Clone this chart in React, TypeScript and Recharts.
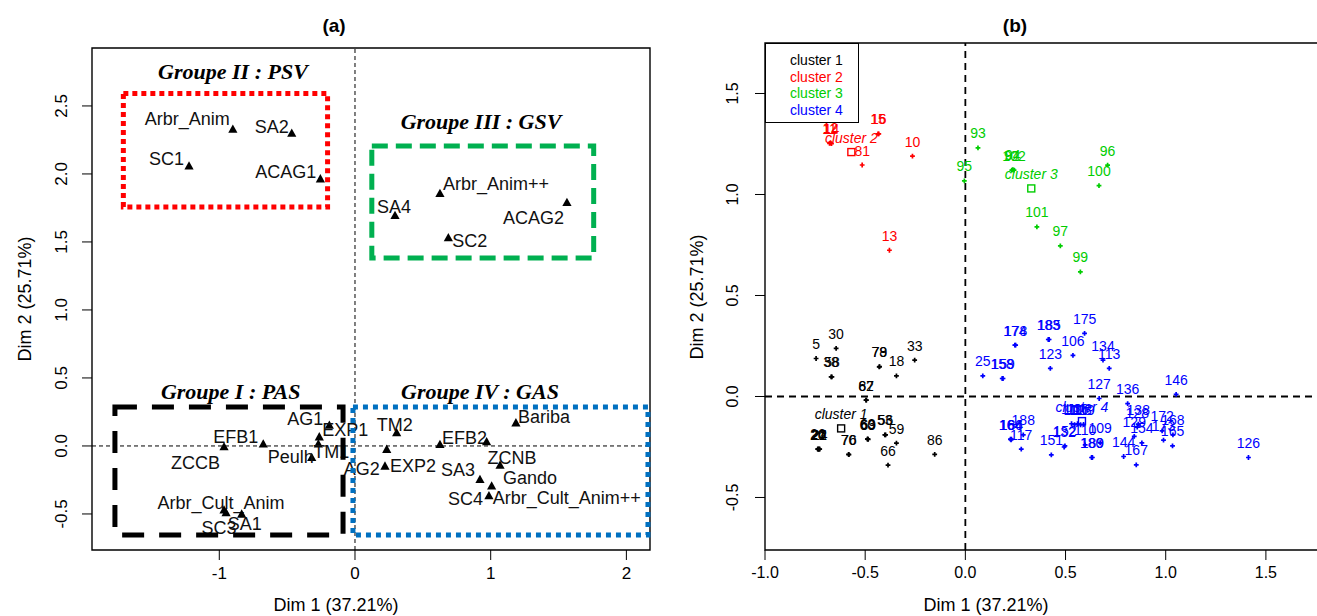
import React from 'react';
import { ScatterChart, Scatter, XAxis, YAxis, ReferenceLine, ReferenceArea, ReferenceDot, Label } from 'recharts';

const SANS = '"Liberation Sans", Arial, sans-serif';
const SERIF = '"Liberation Serif", "Times New Roman", serif';

// ---------------- Panel (a) data ----------------
const varNames = ['Arbr_Anim', 'SA2', 'SC1', 'ACAG1', 'Arbr_Anim++', 'SA4', 'ACAG2', 'SC2', 'AG1', 'EXP1', 'TM1', 'Peulh', 'EFB1', 'ZCCB', 'Arbr_Cult_Anim', 'SC3', 'SA1', 'TM2', 'AG2', 'EXP2', 'EFB2', 'ZCNB', 'Gando', 'Bariba', 'SA3', 'Arbr_Cult_Anim++', 'SC4'];
const varDim1 = [-0.9, -0.466, -1.223, -0.255, 0.626, 0.295, 1.562, 0.688, -0.189, -0.263, -0.27, -0.319, -0.676, -0.965, -0.965, -0.95, -0.835, 0.307, 0.234, 0.221, 0.626, 0.97, 1.069, 1.186, 0.921, 1.007, 0.987];
const varDim2 = [2.33, 2.3, 2.06, 1.965, 1.858, 1.696, 1.791, 1.532, 0.154, 0.068, 0.015, -0.083, 0.015, -0.005, -0.47, -0.49, -0.5, 0.098, -0.024, -0.147, 0.0125, 0.032, -0.14, 0.171, -0.245, -0.294, -0.365];
// label placement (text anchor, dx px, dy px) like R's autoLab result
const labelPlacement: [string, number, number][] = [
  ['end', -3, -10], ['end', -3, -6], ['end', -5, -7], ['end', -4, -7], ['start', 3, -9],
  ['middle', -1, -8], ['end', -3, 16], ['start', 4, 3], ['end', -6, -6], ['start', 3, -7],
  ['start', -5, 8], ['end', 2, 0], ['end', -5, -7], ['end', -4, 16], ['middle', -3, -7],
  ['middle', -7, 15], ['middle', 3, 10], ['middle', -2, -8], ['end', -7, 20], ['start', 5, 0],
  ['start', 2, -6], ['start', 1, 16], ['start', 3, 13], ['start', 2, -6], ['end', -5, -9],
  ['start', 1, 12], ['end', -6, 3],
];

const groupTitles = ['Groupe II : PSV', 'Groupe III : GSV', 'Groupe I : PAS', 'Groupe IV : GAS'];
const groupTitleX = [-0.899, 0.929, -0.916, 0.921];
const groupTitleY = [2.75, 2.384, 0.4, 0.4];
const groupX1 = [-1.707, 0.124, -1.769, -0.015];
const groupX2 = [-0.202, 1.759, -0.088, 2.159];
const groupY1 = [1.757, 1.382, -0.654, -0.654];
const groupY2 = [2.592, 2.206, 0.287, 0.287];
const groupColors = ['#FF0000', '#00B050', '#000000', '#0070C0'];
const groupDash = ['5 4', '16 8', '22 15', '5 5'];

const aXDomain: [number, number] = [-1.938, 2.174];
const aYDomain: [number, number] = [-0.765, 2.926];
const aXTicks = [-1, 0, 1, 2];
const aYTicks = [-0.5, 0, 0.5, 1, 1.5, 2, 2.5];

// ---------------- Panel (b) data ----------------
const cluster1 = [
  { id: '5', x: -0.745, y: 0.188 }, { id: '30', x: -0.645, y: 0.238 },
  { id: '38', x: -0.67, y: 0.097 }, { id: '58', x: -0.666, y: 0.097 },
  { id: '78', x: -0.43, y: 0.147 }, { id: '79', x: -0.428, y: 0.148 },
  { id: '18', x: -0.344, y: 0.102 }, { id: '33', x: -0.253, y: 0.18 },
  { id: '62', x: -0.496, y: -0.018 }, { id: '87', x: -0.494, y: -0.018 },
  { id: '20', x: -0.737, y: -0.261 }, { id: '21', x: -0.733, y: -0.262 }, { id: '22', x: -0.729, y: -0.26 },
  { id: '24', x: -0.727, y: -0.261 }, { id: '26', x: -0.735, y: -0.259 },
  { id: '70', x: -0.583, y: -0.287 }, { id: '76', x: -0.581, y: -0.288 },
  { id: '60', x: -0.489, y: -0.211 }, { id: '63', x: -0.487, y: -0.21 }, { id: '69', x: -0.485, y: -0.212 },
  { id: '53', x: -0.402, y: -0.19 }, { id: '56', x: -0.398, y: -0.19 },
  { id: '59', x: -0.344, y: -0.231 }, { id: '66', x: -0.386, y: -0.34 }, { id: '86', x: -0.153, y: -0.287 },
];
const cluster2 = [
  { id: '11', x: -0.678, y: 1.253 }, { id: '12', x: -0.673, y: 1.255 }, { id: '14', x: -0.668, y: 1.252 },
  { id: '15', x: -0.436, y: 1.3 }, { id: '16', x: -0.432, y: 1.3 },
  { id: '81', x: -0.515, y: 1.146 }, { id: '10', x: -0.264, y: 1.19 }, { id: '13', x: -0.379, y: 0.724 },
];
const cluster3 = [
  { id: '93', x: 0.063, y: 1.231 }, { id: '95', x: -0.005, y: 1.067 },
  { id: '92', x: 0.232, y: 1.121 }, { id: '94', x: 0.237, y: 1.123 }, { id: '102', x: 0.243, y: 1.121 },
  { id: '96', x: 0.71, y: 1.145 }, { id: '100', x: 0.667, y: 1.044 }, { id: '101', x: 0.357, y: 0.84 },
  { id: '97', x: 0.474, y: 0.746 }, { id: '99', x: 0.574, y: 0.617 },
];
const cluster4 = [
  { id: '25', x: 0.087, y: 0.102 }, { id: '158', x: 0.184, y: 0.089 }, { id: '159', x: 0.188, y: 0.089 },
  { id: '174', x: 0.247, y: 0.254 }, { id: '178', x: 0.251, y: 0.254 },
  { id: '183', x: 0.414, y: 0.282 }, { id: '185', x: 0.418, y: 0.282 },
  { id: '175', x: 0.595, y: 0.312 }, { id: '106', x: 0.537, y: 0.204 }, { id: '123', x: 0.424, y: 0.139 },
  { id: '134', x: 0.687, y: 0.18 }, { id: '113', x: 0.718, y: 0.139 },
  { id: '127', x: 0.668, y: -0.01 }, { id: '136', x: 0.81, y: -0.035 }, { id: '146', x: 1.052, y: 0.01 },
  { id: '164', x: 0.225, y: -0.211 }, { id: '184', x: 0.23, y: -0.211 }, { id: '166', x: 0.228, y: -0.215 },
  { id: '188', x: 0.289, y: -0.19 }, { id: '117', x: 0.279, y: -0.261 },
  { id: '111', x: 0.53, y: -0.135 }, { id: '112', x: 0.545, y: -0.14 }, { id: '116', x: 0.56, y: -0.135 },
  { id: '118', x: 0.575, y: -0.14 }, { id: '119', x: 0.59, y: -0.138 },
  { id: '110', x: 0.598, y: -0.24 }, { id: '109', x: 0.673, y: -0.229 },
  { id: '132', x: 0.493, y: -0.25 }, { id: '152', x: 0.497, y: -0.245 }, { id: '151', x: 0.429, y: -0.289 },
  { id: '180', x: 0.63, y: -0.302 }, { id: '189', x: 0.634, y: -0.302 },
  { id: '144', x: 0.79, y: -0.297 }, { id: '167', x: 0.853, y: -0.339 }, { id: '154', x: 0.881, y: -0.23 },
  { id: '138', x: 0.863, y: -0.137 }, { id: '128', x: 0.858, y: -0.152 }, { id: '129', x: 0.843, y: -0.197 },
  { id: '172', x: 0.982, y: -0.17 }, { id: '173', x: 0.989, y: -0.216 },
  { id: '168', x: 1.036, y: -0.19 }, { id: '165', x: 1.034, y: -0.245 }, { id: '126', x: 1.413, y: -0.302 },
];
const clusterNames = ['cluster 1', 'cluster 2', 'cluster 3', 'cluster 4'];
const clusterColors = ['#000000', '#FF0000', '#00CD00', '#0000FF'];
const centerX = [-0.62, -0.569, 0.329, 0.582];
const centerY = [-0.158, 1.21, 1.03, -0.122];

const bXDomain: [number, number] = [-1.0, 1.8];
const bYDomain: [number, number] = [-0.76, 1.75];
const bXTicks = [-1.0, -0.5, 0, 0.5, 1.0, 1.5];
const bYTicks = [-0.5, 0, 0.5, 1.0, 1.5];

// ---------------- helpers ----------------
const varTable = varNames.map((name, i) => ({
  name, x: varDim1[i], y: varDim2[i],
  anchor: labelPlacement[i][0], dx: labelPlacement[i][1], dy: labelPlacement[i][2],
}));
const centerTable = clusterNames.map((name, i) => ({ name, x: centerX[i], y: centerY[i], color: clusterColors[i] }));
const clusters = [cluster1, cluster2, cluster3, cluster4];

const TriangleLabel = (p: any) => {
  const { cx, cy, payload } = p;
  if (cx == null || cy == null) return null;
  const s = 4.6;
  return (
    <g>
      <polygon points={`${cx},${cy - s} ${cx - s},${cy + s * 0.8} ${cx + s},${cy + s * 0.8}`} fill="#000" />
      <text x={cx + payload.dx} y={cy + payload.dy} textAnchor={payload.anchor} dominantBaseline="central"
        fontSize={18} fontFamily={SANS} fill="#111">{payload.name}</text>
    </g>
  );
};

const makePlus = (color: string) => (p: any) => {
  const { cx, cy, payload } = p;
  if (cx == null || cy == null) return null;
  return (
    <g>
      <path d={`M${cx - 2.4},${cy}H${cx + 2.4}M${cx},${cy - 2.4}V${cy + 2.4}`} stroke={color} strokeWidth={1.7} />
      <text x={cx} y={cy - 14.5} textAnchor="middle" dominantBaseline="central" fontSize={14}
        fontFamily={SANS} fill={color}>{payload.id}</text>
    </g>
  );
};

const CenterSquare = (p: any) => {
  const { cx, cy, payload } = p;
  if (cx == null || cy == null) return null;
  return (
    <g>
      <rect x={cx - 3.5} y={cy - 3.5} width={7} height={7} fill="none" stroke={payload.color} strokeWidth={1.4} />
      <text x={cx} y={cy - 14.5} textAnchor="middle" dominantBaseline="central" fontSize={14}
        fontStyle="italic" fontFamily={SANS} fill={payload.color}>{payload.name}</text>
    </g>
  );
};

const makeYTick = (xPos: number, fontSize: number) => (p: any) => {
  const { y, payload } = p;
  return (
    <text x={xPos} y={y} transform={`rotate(-90 ${xPos} ${y})`} textAnchor="middle" dominantBaseline="central"
      fontSize={fontSize} fontFamily={SANS} fill="#000">{Number(payload.value).toFixed(1)}</text>
  );
};

const makeXTitle = (x: number, y: number) => () => (
  <text x={x} y={y} textAnchor="middle" dominantBaseline="central" fontSize={18} fontFamily={SANS} fill="#000">Dim 1 (37.21%)</text>
);
const makeYTitle = (x: number, y: number) => () => (
  <text x={x} y={y} transform={`rotate(-90 ${x} ${y})`} textAnchor="middle" dominantBaseline="central"
    fontSize={18} fontFamily={SANS} fill="#000">Dim 2 (25.71%)</text>
);

const makeGroupTitle = (text: string) => (p: any) => (
  <text x={p.cx} y={p.cy} textAnchor="middle" dominantBaseline="central" fontSize={22}
    fontFamily={SERIF} fontWeight="bold" fontStyle="italic" fill="#000">{text}</text>
);

export default function App() {
  return (
    <div style={{ position: 'absolute', left: 0, top: 0, width: 1317, height: 616, overflow: 'hidden', background: '#fff', fontFamily: SANS }}>
      {/* Panel (a) */}
      <div style={{ position: 'absolute', left: 0, top: 0 }}>
        <ScatterChart width={660} height={616} margin={{ top: 48, right: 10, bottom: 6, left: 0 }}>
          <XAxis type="number" dataKey="x" domain={aXDomain} ticks={aXTicks} allowDataOverflow
            axisLine={false} tickLine={{ stroke: '#000' }} tickSize={10} tickMargin={7} height={60}
            tick={{ fontSize: 17, fill: '#000', fontFamily: SANS }} tickFormatter={(v: number) => String(v)}>
            <Label content={makeXTitle(336, 605)} />
          </XAxis>
          <YAxis type="number" dataKey="y" domain={aYDomain} ticks={aYTicks} allowDataOverflow
            axisLine={false} tickLine={{ stroke: '#000' }} tickSize={10} width={92} tick={makeYTick(62, 17)}>
            <Label content={makeYTitle(25, 299)} />
          </YAxis>
          <ReferenceArea x1={aXDomain[0]} x2={aXDomain[1]} y1={aYDomain[0]} y2={aYDomain[1]}
            fill="none" fillOpacity={0} stroke="#000" strokeWidth={1.4} ifOverflow="visible" />
          <ReferenceLine x={0} stroke="#000" strokeDasharray="4 3" strokeWidth={1} />
          <ReferenceLine y={0} stroke="#000" strokeDasharray="4 3" strokeWidth={1} />
          <Scatter name="variables" data={varTable} shape={TriangleLabel} isAnimationActive={false} />
          {groupTitles.map((t, i) => (
            <ReferenceArea key={'box' + i} x1={groupX1[i]} x2={groupX2[i]} y1={groupY1[i]} y2={groupY2[i]}
              fill="none" fillOpacity={0} stroke={groupColors[i]} strokeWidth={5}
              strokeDasharray={groupDash[i]} ifOverflow="visible" zIndex={700} />
          ))}
          {groupTitles.map((t, i) => (
            <ReferenceDot key={'gt' + i} x={groupTitleX[i]} y={groupTitleY[i]} r={0}
              shape={makeGroupTitle(t)} ifOverflow="visible" />
          ))}
        </ScatterChart>
      </div>

      {/* Panel (b) */}
      <div style={{ position: 'absolute', left: 670, top: 0 }}>
        <ScatterChart width={670} height={616} margin={{ top: 43, right: 14, bottom: 6, left: 0 }}>
          <XAxis type="number" dataKey="x" domain={bXDomain} ticks={bXTicks} allowDataOverflow
            axisLine={false} tickLine={{ stroke: '#000' }} tickSize={10} tickMargin={7} height={60}
            tick={{ fontSize: 16, fill: '#000', fontFamily: SANS }} tickFormatter={(v: number) => v.toFixed(1)}>
            <Label content={makeXTitle(316, 605)} />
          </XAxis>
          <YAxis type="number" dataKey="y" domain={bYDomain} ticks={bYTicks} allowDataOverflow
            axisLine={false} tickLine={{ stroke: '#000' }} tickSize={10} width={95} tick={makeYTick(63, 16)}>
            <Label content={makeYTitle(27, 297)} />
          </YAxis>
          <ReferenceArea x1={bXDomain[0]} x2={bXDomain[1]} y1={bYDomain[0]} y2={bYDomain[1]}
            fill="none" fillOpacity={0} stroke="#000" strokeWidth={1.4} ifOverflow="visible" />
          <ReferenceLine x={0} stroke="#000" strokeDasharray="7 5" strokeWidth={1.8} />
          <ReferenceLine y={0} stroke="#000" strokeDasharray="7 5" strokeWidth={1.8} />
          {clusters.map((c, i) => (
            <Scatter key={clusterNames[i]} name={clusterNames[i]} data={c} shape={makePlus(clusterColors[i])}
              isAnimationActive={false} />
          ))}
          <Scatter name="centres" data={centerTable} shape={CenterSquare} isAnimationActive={false} />
        </ScatterChart>
      </div>

      {/* Legend of panel (b) */}
      <div style={{ position: 'absolute', left: 765, top: 43, width: 94, height: 80, border: '1.5px solid #000',
        background: '#fff', boxSizing: 'border-box', paddingTop: 8, paddingLeft: 24 }}>
        {clusterNames.map((n, i) => (
          <div key={n} style={{ fontSize: 14, lineHeight: '16.7px', color: clusterColors[i], fontFamily: SANS }}>{n}</div>
        ))}
      </div>

      {/* Panel titles */}
      <div style={{ position: 'absolute', left: 304, top: 15, width: 60, textAlign: 'center', fontWeight: 'bold', fontSize: 19, fontFamily: SANS }}>(a)</div>
      <div style={{ position: 'absolute', left: 985, top: 15, width: 60, textAlign: 'center', fontWeight: 'bold', fontSize: 19, fontFamily: SANS }}>(b)</div>
    </div>
  );
}
